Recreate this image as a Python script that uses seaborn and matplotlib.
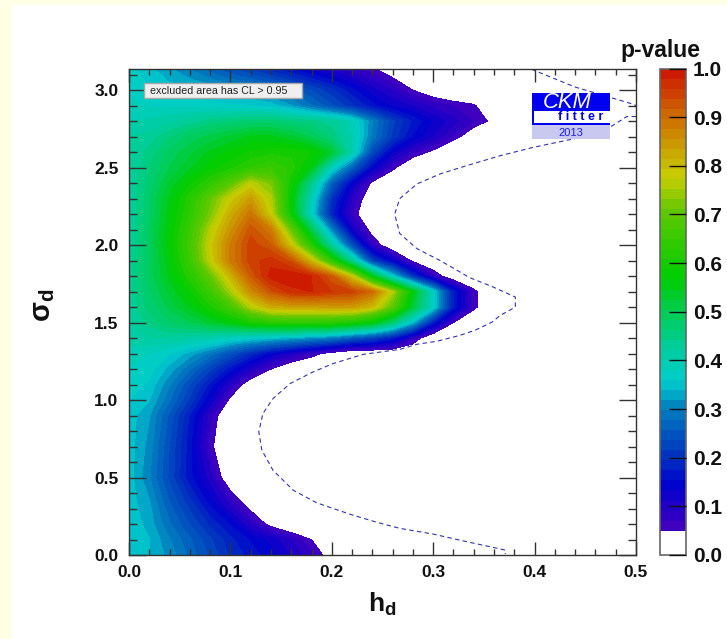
import matplotlib
matplotlib.use('Agg')
import matplotlib.pyplot as plt
from matplotlib.colors import LinearSegmentedColormap
from matplotlib.patches import Rectangle
import numpy as np
import seaborn as sns

sns.set_theme(style="ticks")
plt.rcParams['font.family'] = ['Liberation Sans', 'DejaVu Sans']
plt.rcParams['mathtext.fontset'] = 'custom'
plt.rcParams['mathtext.rm'] = 'Liberation Sans'
plt.rcParams['mathtext.bf'] = 'Liberation Sans:bold'
plt.rcParams['mathtext.it'] = 'Liberation Sans:italic'

# --- values ---
hd_values = [0, .02, .04, .06, .08, .10, .12, .14, .16, .18, .20, .22, .24, .26, .28, .30, .32, .34, .36, .38, .50]
sigma_values = [0, .1, .2, .35, .5, .7, .9, 1.0, 1.1, 1.2, 1.3, 1.4, 1.5, 1.6, 1.7, 1.8,
                1.9, 2.0, 2.1, 2.2, 2.3, 2.4, 2.5, 2.6, 2.7, 2.8, 2.9, 3.0, 3.14]

# p-value per sigma row, running along hd; missing tail cells are below the excluded level
pvalue_rows = [
    [.36, .34, .31, .27, .23, .19, .165, .14, .11, .075, .03],
    [.36, .34, .30, .26, .22, .18, .15, .125, .09, .05, .01],
    [.355, .33, .28, .235, .19, .15, .09, .035],
    [.35, .32, .255, .20, .14, .08, .02],
    [.35, .30, .23, .16, .10, .01],
    [.35, .31, .235, .16, .06],
    [.35, .32, .25, .17, .08],
    [.36, .34, .28, .21, .13, .04],
    [.37, .355, .30, .235, .165, .09, .02],
    [.38, .37, .33, .28, .22, .16, .10, .05, .01],
    [.39, .38, .36, .33, .29, .24, .19, .14, .10, .065, .03],
    [.41, .42, .42, .41, .40, .375, .36, .345, .33, .31, .29, .25, .22, .17, .08],
    [.42, .45, .48, .50, .53, .56, .60, .62, .63, .63, .62, .60, .56, .47, .34, .17, .05],
    [.42, .47, .51, .55, .60, .66, .76, .82, .83, .83, .84, .84, .80, .69, .52, .37, .17, .06],
    [.43, .48, .53, .58, .65, .75, .86, .93, .97, .98, .96, .95, .90, .76, .56, .37, .17, .06],
    [.43, .49, .55, .62, .70, .81, .92, .99, 1.0, .98, .92, .78, .55, .36, .20, .08, .01],
    [.43, .49, .56, .65, .77, .88, .95, .97, .93, .80, .62, .43, .22, .13, .04],
    [.42, .49, .57, .66, .78, .88, .95, .92, .79, .62, .42, .24, .08, .01],
    [.42, .49, .565, .65, .76, .85, .93, .88, .70, .50, .30, .12, .03],
    [.42, .48, .56, .63, .72, .82, .89, .78, .58, .37, .18, .07],
    [.42, .48, .55, .62, .70, .78, .84, .76, .57, .39, .20, .09, .01],
    [.42, .47, .53, .58, .63, .69, .77, .72, .59, .44, .26, .135, .04],
    [.42, .46, .505, .54, .575, .60, .63, .65, .62, .55, .38, .26, .14, .06],
    [.42, .45, .49, .52, .55, .57, .59, .60, .60, .585, .53, .40, .23, .13, .075, .04],
    [.42, .43, .46, .49, .51, .53, .55, .55, .53, .50, .46, .40, .29, .21, .15, .11, .065, .02],
    [.40, .405, .415, .43, .45, .46, .47, .47, .46, .45, .43, .39, .30, .22, .17, .13, .10, .07, .04],
    [.39, .38, .375, .375, .37, .365, .36, .35, .32, .28, .24, .20, .16, .13, .11, .085, .07, .055, .01],
    [.37, .36, .35, .345, .335, .32, .31, .29, .265, .235, .20, .16, .12, .09, .05, .02],
    [.37, .345, .32, .295, .265, .235, .21, .18, .15, .12, .10, .075, .055, .02],
]

# dashed outer contour, two pieces because it leaves the frame on the right
dash_top_hd = [.397, .44, .497, .50]
dash_top_sigma = [3.135, 3.02, 2.91, 2.90]
dash_main_hd = [.50, .491, .474, .445, .398, .366, .333, .307, .284, .267, .262, .267, .284, .307, .336, .359, .381,
                .381, .366, .358, .341, .326, .304, .284, .267, .231, .201, .181, .159, .142, .132, .128, .131, .142,
                .162, .185, .218, .244, .267, .300, .333, .371, .371]
dash_main_sigma = [2.83, 2.83, 2.76, 2.695, 2.63, 2.577, 2.513, 2.46, 2.395, 2.30, 2.20, 2.075, 1.977, 1.90, 1.79, 1.73, 1.665,
                   1.60, 1.546, 1.503, 1.45, 1.417, 1.38, 1.36, 1.327, 1.295, 1.235, 1.18, 1.107, 1.01, .912, .795, .677, .547,
                   .418, .337, .263, .212, .172, .135, .086, .032, .006]

colorbar_ticks = [0, .1, .2, .3, .4, .5, .6, .7, .8, .9, 1.0]
level_edges = [0, .05] + [round(.05 + i * .95 / 46, 4) for i in range(1, 47)]

# colour scale anchors (p-value, colour)
color_stops = [.05, .14, .20, .30, .356, .42, .50, .57, .70, .78, .90, 1.0]
stop_colors = ['#4600be', '#0000cd', '#0032be', '#007dbe', '#00cdcd', '#00cda0', '#00cd55', '#00cd00',
               '#5ac800', '#c8cd00', '#cd6e00', '#cd1400']

n_cols = len(hd_values)
pvalues = np.array([r + [0.0] * (n_cols - len(r)) for r in pvalue_rows])
stop_pos = [(v - .05) / .95 for v in color_stops]
cmap = LinearSegmentedColormap.from_list('pv', list(zip(stop_pos, stop_colors)))
n_bands = len(level_edges) - 2
band_colors = ['white'] + [cmap((i + .5) / n_bands) for i in range(n_bands)]

W, H = 727, 639
fig = plt.figure(figsize=(W / 100, H / 100), dpi=100, facecolor='#ffffe6')
fig.patches.append(Rectangle((12 / W, 0), 1, 1 - 5 / H, transform=fig.transFigure, facecolor='white', edgecolor='none', zorder=-1))


def box(left, top, right, bottom):
    return [left / W, 1 - bottom / H, (right - left) / W, (bottom - top) / H]


ax = fig.add_axes(box(129, 68.5, 636, 555))
cs = ax.contourf(hd_values, sigma_values, pvalues, levels=level_edges, colors=band_colors)

for xs, ys in [(dash_top_hd, dash_top_sigma), (dash_main_hd, dash_main_sigma)]:
    sns.lineplot(x=xs, y=ys, sort=False, estimator=None, ax=ax, color='#3232aa', lw=.8, linestyle=(0, (4, 3)))

ax.set_xlim(0, .5)
ax.set_ylim(0, 3.14)
ax.set_facecolor('white')
ax.set_axisbelow(False)
ax.set_xticks(np.arange(0, .51, .1))
ax.set_yticks(np.arange(0, 3.1, .5))
ax.set_xticks(np.arange(0, .501, .02), minor=True)
ax.set_yticks(np.arange(0, 3.14, .1), minor=True)
ax.tick_params(axis='x', which='major', direction='in', top=True, bottom=True, length=9.5, width=1, color='#333333', pad=7)
ax.tick_params(axis='x', which='minor', direction='in', top=True, bottom=True, length=4.6, width=1, color='#333333')
ax.tick_params(axis='y', which='major', direction='in', left=True, right=True, length=12, width=1, color='#333333', pad=7.5)
ax.tick_params(axis='y', which='minor', direction='in', left=True, right=True, length=6, width=1, color='#333333')
ax.set_xticklabels(['%.1f' % v for v in ax.get_xticks()], fontsize=12.5, fontweight='bold', color='#111111')
ax.set_yticklabels(['%.1f' % v for v in ax.get_yticks()], fontsize=12.5, fontweight='bold', color='#111111')
for s in ax.spines.values():
    s.set_linewidth(1)
    s.set_color('#333333')
ax.grid(False)

# colour scale
cax = fig.add_axes(box(660, 68.5, 686, 555))
cb = fig.colorbar(cs, cax=cax, spacing='proportional', ticks=colorbar_ticks)
cb.ax.set_axisbelow(False)
cb.ax.set_yticklabels(['%.1f' % v for v in colorbar_ticks], fontsize=15, fontweight='bold', color='#111111')
cb.ax.tick_params(direction='in', length=12, width=1, color='#111111', pad=5, right=True, left=False)
cb.outline.set_edgecolor('#666666')
cb.outline.set_linewidth(1.2)
cb.ax.minorticks_off()


def at(x, y):
    return x / W, 1 - y / H


fig.text(*at(660, 51), 'p-value', fontsize=16.5, fontweight='bold', color='#111111', ha='center', va='center')
fig.text(*at(382, 604), r'$\mathbf{h_d}$', fontsize=19, color='#111111', ha='center', va='center')
fig.text(*at(43, 305), r'$\mathbf{\sigma_d}$', fontsize=21, color='#111111', rotation=90, ha='center', va='center')

# note box
fig.patches.append(Rectangle((144 / W, 1 - 97.5 / H), 158 / W, 15 / H, transform=fig.transFigure,
                             facecolor='#efefef', edgecolor='#a8a8a8', lw=1, zorder=5))
fig.text(*at(150, 90.5), 'excluded area has CL > 0.95', fontsize=7.7, color='#222222', va='center', zorder=6)

# logo
fig.patches.append(Rectangle((532 / W, 1 - 125 / H), 78 / W, 32.5 / H, transform=fig.transFigure, facecolor='#0000f0', edgecolor='none', zorder=5))
fig.patches.append(Rectangle((534 / W, 1 - 123 / H), 76 / W, 11.5 / H, transform=fig.transFigure, facecolor='white', edgecolor='none', zorder=6))
fig.patches.append(Rectangle((532 / W, 1 - 139 / H), 78 / W, 14 / H, transform=fig.transFigure, facecolor='#c8c8f0', edgecolor='none', zorder=5))
fig.text(*at(567, 102.5), 'CKM', fontsize=15.8, style='italic', color='white', ha='center', va='center', zorder=7)
fig.text(*at(581, 117.5), 'f i t t e r', fontsize=9, fontweight='bold', color='#0000f0', ha='center', va='center', zorder=7)
fig.text(*at(571, 133), '2013', fontsize=8, color='#2020e0', ha='center', va='center', zorder=7)

fig.savefig('out.png', dpi=100, facecolor=fig.get_facecolor())
